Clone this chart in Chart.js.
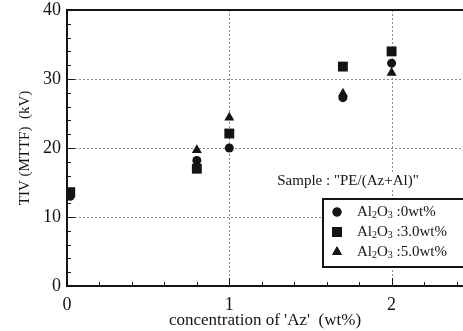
<!DOCTYPE html>
<html>
<head>
<meta charset="utf-8">
<script src="https://cdn.jsdelivr.net/npm/chart.js@4.4.1/dist/chart.umd.min.js"></script>
<style>
  html, body { margin: 0; padding: 0; background: #fff; overflow: hidden; }
  #wrap { width: 463px; height: 331px; }
</style>
</head>
<body>
<div id="wrap"><canvas id="tivChart" width="463" height="331"></canvas></div>
<script>
// concentration of Az (wt%) and TIV (MTTF) in kV
const azConc = [0.02, 0.8, 1, 1.7, 2];
const tivAl0 = [13.0, 18.2, 20.0, 27.3, 32.3];
const tivAl3 = [13.6, 17.0, 22.1, 31.8, 34.0];
const tivAl5 = [13.3, 19.7, 24.4, 27.9, 30.9];
const seriesLabels = [':0wt%', ':3.0wt%', ':5.0wt%'];
const seriesShapes = ['circle', 'rect', 'triangle'];
const seriesRadius = [4.5, 7, 5.8];
const xTicks = [0, 1, 2];
const yTicks = [0, 10, 20, 30, 40];
const sampleNote = 'Sample : "PE/(Az+Al)"';

const serif = 'Liberation Serif, Times New Roman, serif';
const ink = '#141414';

const toPoints = (ys) => azConc.map((x, i) => ({ x: x, y: ys[i] }));

// dotted grid + inward minor ticks + frame + note + legend box
const decor = {
    id: 'decor',
    beforeDatasetsDraw(chart) {
        const { ctx, chartArea: a, scales: { x, y } } = chart;
        ctx.save();
        ctx.strokeStyle = '#8c8c8c';
        ctx.lineWidth = 1;
        ctx.setLineDash([2, 2]);
        xTicks.forEach(v => {
            if (v === 0) return;
            const px = Math.round(x.getPixelForValue(v)) + 0.5;
            ctx.beginPath(); ctx.moveTo(px, a.top); ctx.lineTo(px, a.bottom); ctx.stroke();
        });
        yTicks.forEach(v => {
            if (v === 0 || v === 40) return;
            const py = Math.round(y.getPixelForValue(v)) + 0.5;
            ctx.beginPath(); ctx.moveTo(a.left, py); ctx.lineTo(a.right, py); ctx.stroke();
        });
        ctx.restore();

        // note with white background
        ctx.save();
        ctx.font = '15px ' + serif;
        ctx.textAlign = 'center';
        ctx.textBaseline = 'middle';
        const w = ctx.measureText(sampleNote).width;
        ctx.fillStyle = '#fff';
        ctx.fillRect(348 - w / 2 - 3, 172, w + 6, 18);
        ctx.fillStyle = ink;
        ctx.fillText(sampleNote, 348, 181);
        ctx.restore();
    },
    afterDatasetsDraw(chart) {
        const { ctx, chartArea: a, scales: { x, y } } = chart;
        ctx.save();
        ctx.strokeStyle = ink;
        ctx.lineWidth = 1;
        for (let i = 1; i <= 12; i++) {
            const v = i * 0.2;
            const px = Math.round(x.getPixelForValue(v)) + 0.5;
            const len = (i % 5 === 0) ? 8 : 4;
            ctx.beginPath(); ctx.moveTo(px, a.bottom); ctx.lineTo(px, a.bottom - len); ctx.stroke();
        }
        for (let v = 2; v < 40; v += 2) {
            const py = Math.round(y.getPixelForValue(v)) + 0.5;
            const len = (v % 10 === 0) ? 8 : 4;
            ctx.beginPath(); ctx.moveTo(a.left, py); ctx.lineTo(a.left + len, py); ctx.stroke();
        }
        // frame
        ctx.lineWidth = 2;
        ctx.beginPath();
        ctx.moveTo(a.right + 2, a.top);
        ctx.lineTo(a.left, a.top);
        ctx.lineTo(a.left, a.bottom);
        ctx.lineTo(a.right + 2, a.bottom);
        ctx.stroke();

        // legend box
        const bx = 323, by = 199, bw = 150, bh = 68;
        ctx.fillStyle = '#fff';
        ctx.fillRect(bx, by, bw, bh);
        ctx.strokeRect(bx, by, bw, bh);
        const rows = [212, 232, 252];
        chart.data.datasets.forEach((ds, i) => {
            ctx.fillStyle = ink;
            Chart.helpers.drawPoint(ctx, { pointStyle: ds.pointStyle, radius: ds.pointRadius, rotation: 0, borderWidth: 0 }, 337, rows[i]);
            ctx.fill();
            let tx = 357;
            ctx.textBaseline = 'middle';
            ctx.textAlign = 'left';
            const parts = [['Al', 15, 0], ['2', 10, 3], ['O', 15, 0], ['3', 10, 3], [' ' + seriesLabels[i], 15, 0]];
            parts.forEach(([t, s, dy]) => {
                ctx.font = s + 'px ' + serif;
                ctx.fillText(t, tx, rows[i] + dy);
                tx += ctx.measureText(t).width;
            });
        });
        ctx.restore();
    }
};

new Chart(document.getElementById('tivChart'), {
    type: 'scatter',
    data: {
        datasets: [tivAl0, tivAl3, tivAl5].map((ys, i) => ({
            label: 'Al2O3 ' + seriesLabels[i],
            data: toPoints(ys),
            pointStyle: seriesShapes[i],
            pointRadius: seriesRadius[i],
            pointHoverRadius: seriesRadius[i],
            backgroundColor: ink,
            borderColor: ink,
            borderWidth: 0
        }))
    },
    options: {
        responsive: false,
        animation: false,
        devicePixelRatio: 1,
        layout: { autoPadding: false, padding: { top: 10, right: 0, left: 0, bottom: 0 } },
        plugins: { legend: { display: false }, tooltip: { enabled: false } },
        scales: {
            x: {
                type: 'linear',
                min: 0,
                max: 2.44,
                afterFit: (s) => { s.height = 45; s.paddingLeft = 0; s.paddingRight = 0; },
                afterBuildTicks: (s) => { s.ticks = xTicks.map(v => ({ value: v })); },
                ticks: { color: ink, font: { family: serif, size: 18 }, padding: 8 },
                grid: { display: false, drawTicks: false },
                border: { display: false },
                title: {
                    display: true,
                    text: "concentration of 'Az'  (wt%)",
                    color: ink,
                    font: { family: serif, size: 17 },
                    padding: { top: 0, bottom: 0 }
                }
            },
            y: {
                type: 'linear',
                min: 0,
                max: 40,
                afterFit: (s) => { s.width = 67; s.paddingTop = 0; s.paddingBottom = 0; },
                afterBuildTicks: (s) => { s.ticks = yTicks.map(v => ({ value: v })); },
                ticks: { color: ink, font: { family: serif, size: 18 }, padding: 6 },
                grid: { display: false, drawTicks: false },
                border: { display: false },
                title: {
                    display: true,
                    text: 'TIV (MTTF)  (kV)',
                    color: ink,
                    font: { family: serif, size: 15 },
                    padding: { top: 16, bottom: 0 }
                }
            }
        }
    },
    plugins: [decor]
});
</script>
</body>
</html>
